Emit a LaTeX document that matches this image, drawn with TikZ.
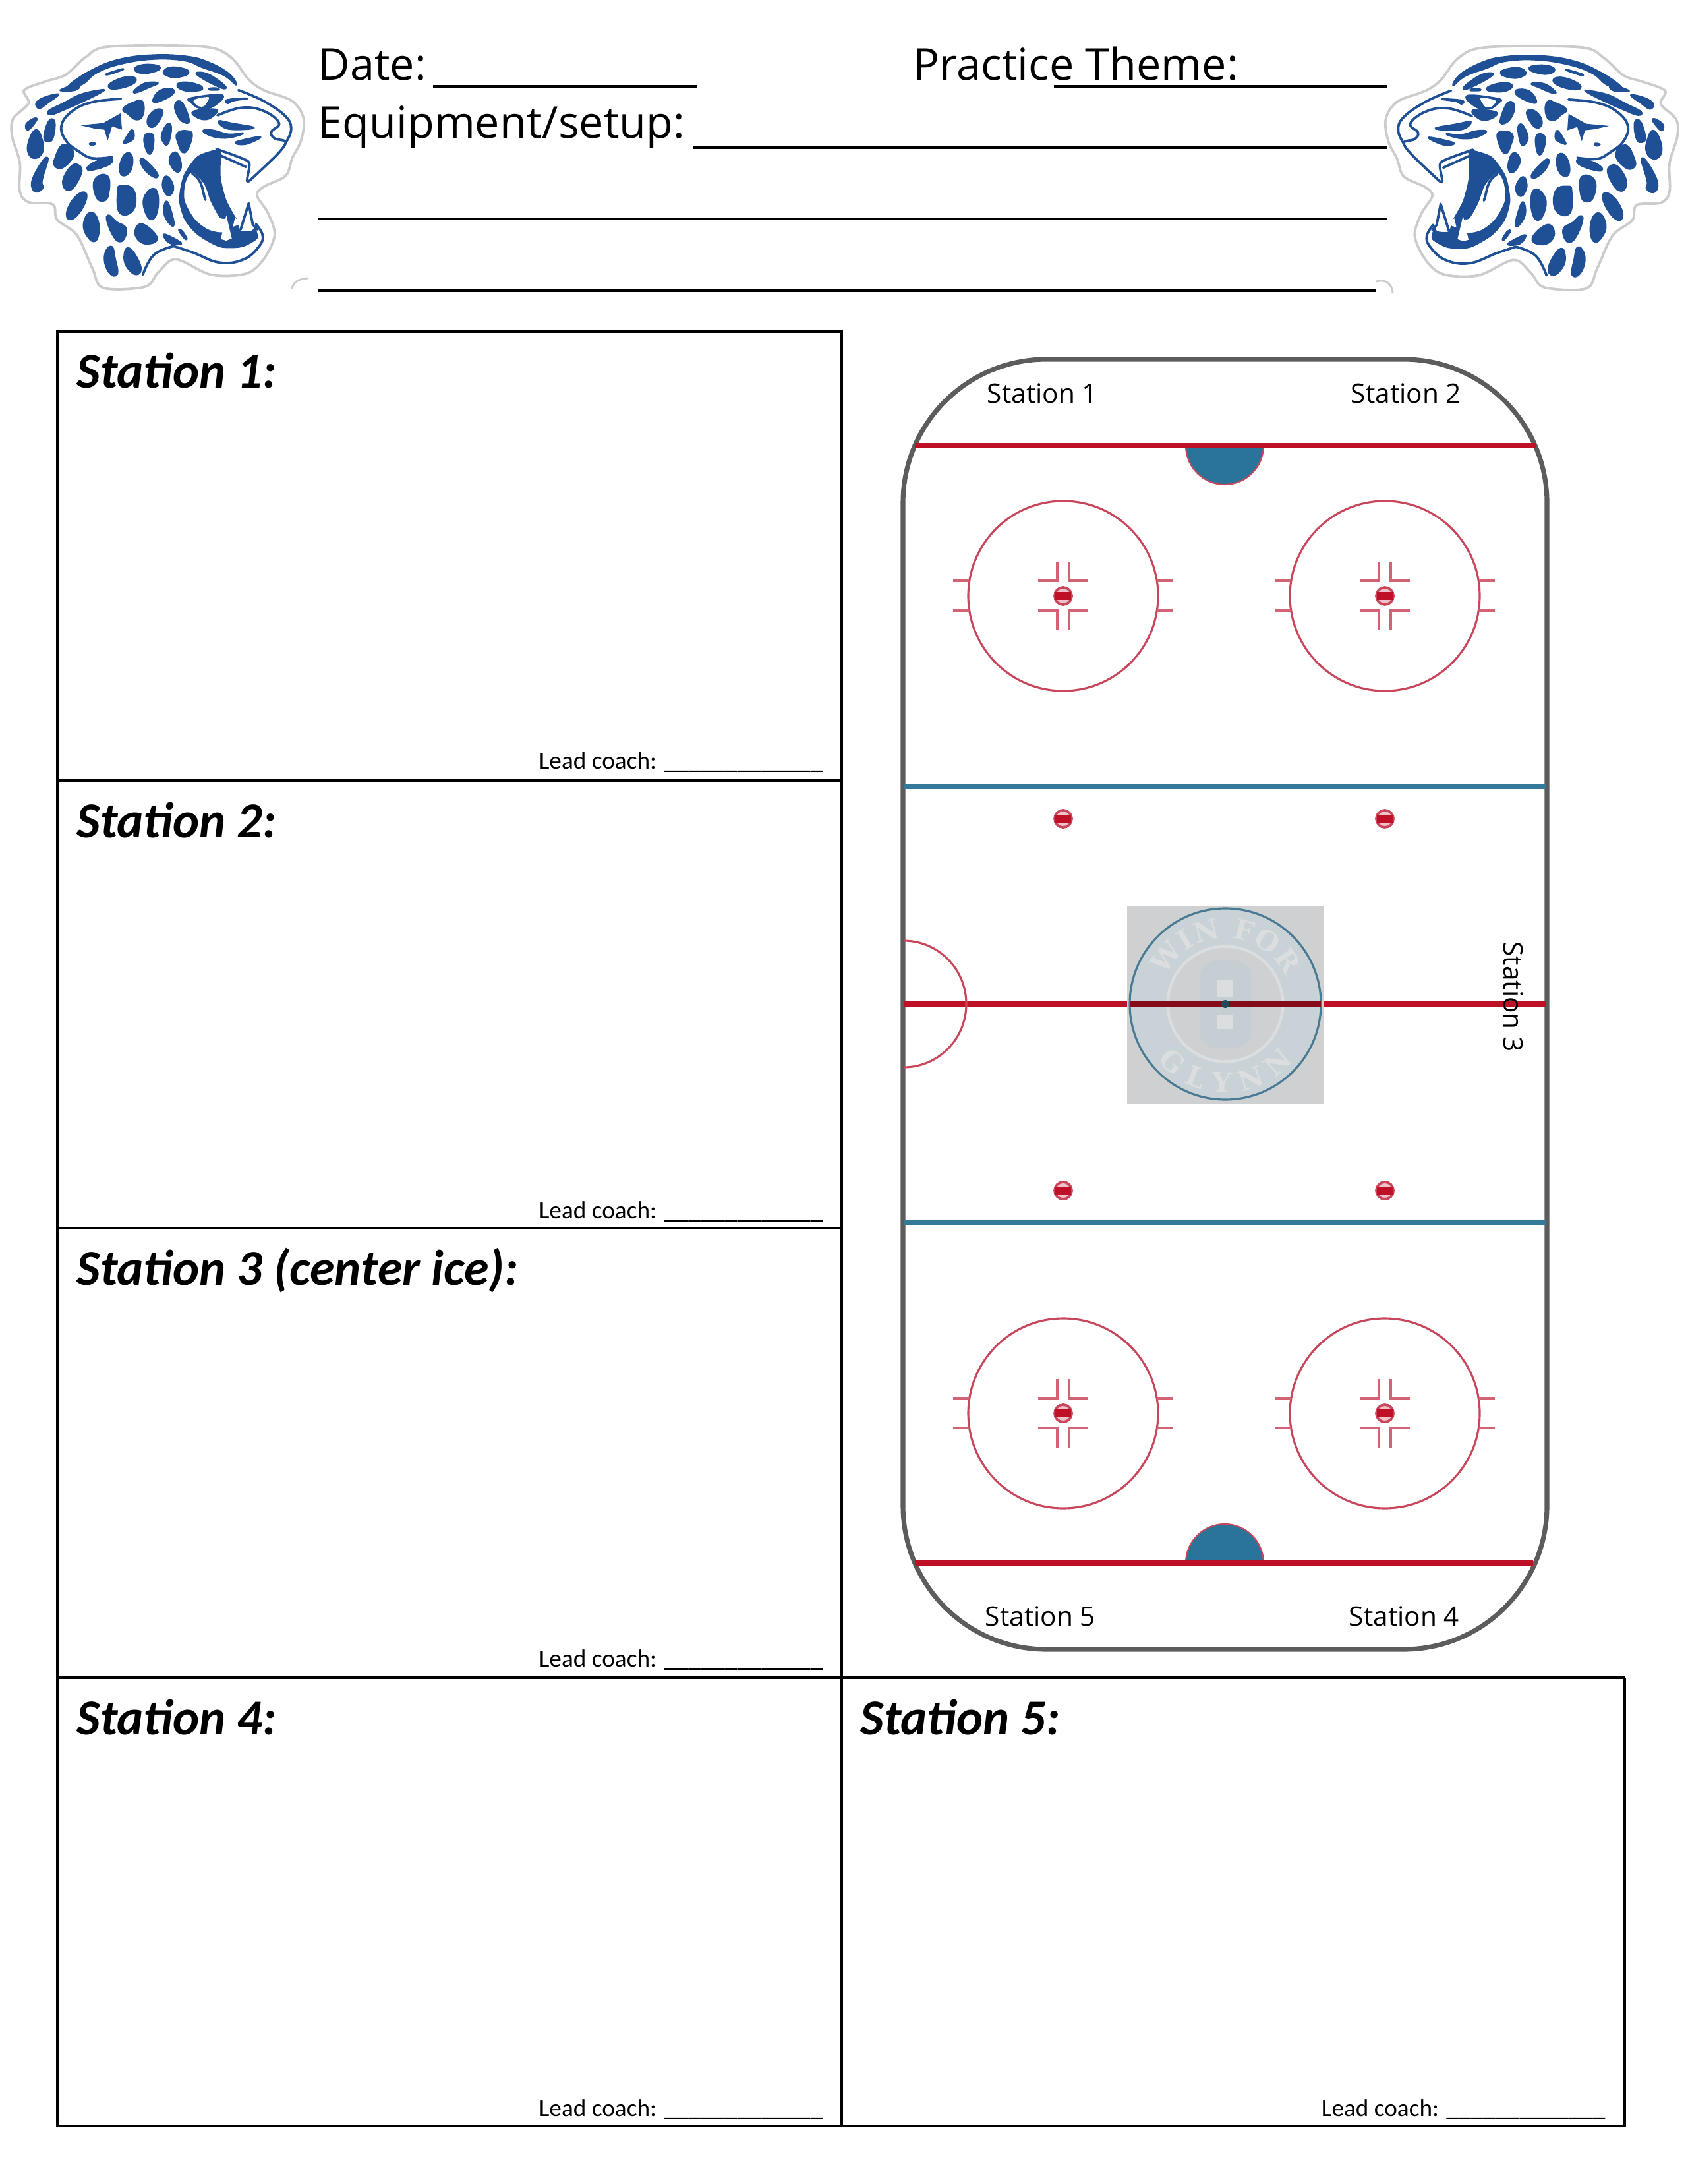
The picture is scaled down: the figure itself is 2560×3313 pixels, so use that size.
\documentclass[tikz,border=0pt]{standalone}
\usepackage{fontspec}
\setmainfont{Carlito}
\newfontfamily\headfont{Open Sans}
\newfontfamily\stampfont{DejaVu Serif}
\usepackage{tikz}
\usetikzlibrary{decorations.text}

\definecolor{jagblue}{HTML}{1F5096}
\definecolor{stickergray}{HTML}{CCCCCC}
\definecolor{boardgray}{HTML}{5C5C5C}
\definecolor{linered}{HTML}{BE1026}
\definecolor{circlered}{HTML}{C9475C}
\definecolor{lineblue}{HTML}{35799A}
\definecolor{creaseblue}{HTML}{2A7499}
\definecolor{stampgray}{HTML}{CFD0D1}
\definecolor{stampblue}{HTML}{C9D2D6}
\definecolor{stamplight}{HTML}{DBDDDE}

\tikzset{
    boxline/.style={black, line width=1.05pt},
    fillline/.style={black, line width=1pt},
    titletext/.style={anchor=base west, inner sep=0pt, font=\fontsize{18.2}{21}\selectfont\bfseries\itshape},
    coachtext/.style={anchor=base west, inner sep=0pt, font=\fontsize{8.9}{10}\selectfont},
    headtext/.style={anchor=base west, inner sep=0pt, font=\headfont\fontsize{15.9}{20}\selectfont},
    rinktext/.style={anchor=base west, inner sep=0pt, font=\headfont\fontsize{9.7}{11}\selectfont},
    jawline/.style={jagblue, line width=.9pt, line cap=round, line join=round},
    markline/.style={circlered!85!white, line width=.95pt},
}

\newcommand{\spot}[1]{\filldraw[jagblue, line width=1.25pt, line join=round] plot [smooth cycle, tension=.8] coordinates {#1};}
\newcommand{\stripe}[1]{\filldraw[jagblue, line width=.7pt, line join=round] plot [smooth cycle, tension=.7] coordinates {#1};}
\newcommand{\whitespot}[1]{\fill[white] plot [smooth cycle, tension=.5] coordinates {#1};}

% one head, in the pixels of its own crop
\newcommand{\leopardhead}{
    \draw[stickergray, fill=white, line width=.9pt] plot [smooth cycle, tension=.55] coordinates {
        (500,92)(920,92)(1050,140)(1130,240)(1200,290)(1330,340)(1382,420)(1370,520)(1330,600)
        (1300,680)(1200,730)(1170,770)(1220,850)(1250,950)(1200,1060)(1120,1125)(960,1130)
        (800,1060)(720,1120)(660,1185)(470,1190)(420,1100)(350,950)(260,880)(240,810)(130,800)
        (90,750)(90,620)(55,500)(60,420)(130,350)(110,290)(210,250)(300,220)(390,140)};
    % crown and stripes
    \stripe{(310,275)(400,210)(530,155)(690,132)(850,138)(950,165)(1040,215)(1075,265)(1020,222)(920,185)(840,155)(700,148)(550,170)(440,210)(375,262)}
    \stripe{(165,350)(200,325)(255,310)(262,315)(220,345)(180,372)}
    \stripe{(280,288)(330,270)(362,272)(340,290)(285,292)}
    \stripe{(222,385)(290,350)(370,310)(462,290)(462,298)(390,335)(300,375)(235,400)}
    \stripe{(490,215)(555,195)(550,200)(495,218)}
    \spot{(620,190)(670,178)(725,188)(680,207)(635,207)}
    \spot{(750,205)(790,190)(855,207)(810,227)(765,222)}
    \stripe{(895,212)(950,220)(1022,270)(1010,280)(925,238)}
    \spot{(500,268)(560,238)(612,238)(595,262)(525,280)}
    \stripe{(612,293)(660,260)(718,258)(680,276)(622,300)}
    \spot{(812,265)(860,260)(918,280)(880,290)(832,285)}
    \spot{(702,332)(732,295)(783,290)(775,312)(715,340)}
    \stripe{(955,283)(985,282)(995,288)(955,288)}
    % ear
    \draw[jawline] plot [smooth, tension=.7] coordinates {(550,330)(420,345)(330,385)(280,450)(300,520)(360,570)(420,600)(510,595)};
    \fill[jagblue] (365,450) -- (470,440) -- (550,395) -- (555,470) -- (510,455) -- (490,520) -- (475,470) -- (430,465) -- cycle;
    \stripe{(408,535)(425,530)(432,535)(420,540)}
    % spots
    \spot{(565,375)(610,350)(645,345)(647,400)(620,420)(585,395)}
    \spot{(675,430)(700,390)(735,385)(722,425)(692,455)}
    \spot{(800,360)(825,350)(855,420)(845,435)(815,410)}
    \stripe{(120,445)(155,420)(165,428)(128,470)}
    \spot{(205,500)(225,435)(245,438)(237,505)(217,520)}
    \spot{(130,550)(160,477)(185,510)(190,570)(152,595)}
    \spot{(255,600)(290,542)(330,580)(290,635)(255,635)}
    \spot{(405,640)(450,615)(505,605)(488,628)(415,650)}
    \spot{(550,635)(572,585)(597,593)(592,650)(560,675)}
    \stripe{(565,525)(600,472)(607,510)(572,530)}
    \spot{(660,510)(680,490)(695,510)(687,570)(672,565)}
    \spot{(740,495)(765,447)(775,470)(762,530)(748,525)}
    \spot{(810,490)(850,480)(870,500)(840,570)(815,530)}
    \spot{(155,690)(213,600)(187,700)(190,735)(157,745)}
    \spot{(290,710)(322,645)(355,635)(365,670)(320,740)}
    \spot{(435,700)(487,685)(490,760)(470,790)(440,770)}
    \spot{(645,605)(687,640)(715,680)(690,675)(655,640)}
    \spot{(775,610)(800,577)(820,630)(805,658)}
    \spot{(745,710)(760,687)(785,730)(770,765)(750,745)}
    \spot{(665,770)(705,745)(715,820)(690,875)(660,825)}
    \spot{(310,840)(350,775)(390,765)(368,830)(322,875)}
    \spot{(540,750)(555,730)(605,748)(605,830)(548,845)}
    \spot{(385,900)(415,850)(445,900)(435,970)(403,955)}
    \spot{(490,865)(530,895)(570,922)(550,975)(513,940)}
    \stripe{(750,810)(765,805)(790,890)(780,905)(750,860)}
    \spot{(620,930)(650,905)(710,960)(680,985)(635,972)}
    \stripe{(815,928)(830,934)(850,967)(838,962)}
    \spot{(480,1050)(505,1005)(520,1060)(530,1125)(498,1115)}
    \spot{(570,1040)(590,1015)(635,1090)(620,1125)(580,1090)}
    \stripe{(745,950)(770,955)(825,988)(772,985)}
    % eye and whiskers
    \stripe{(870,327)(1010,313)(972,362)(912,372)(870,345)}
    \whitespot{(882,335)(950,322)(930,362)(900,362)}
    \stripe{(880,388)(985,380)(950,420)(902,416)}
    \stripe{(1035,335)(1125,328)(1060,338)(1038,350)}
    \stripe{(995,432)(1060,443)(1155,462)(1040,466)}
    \stripe{(925,476)(970,474)(1040,492)(1105,487)(1040,506)(972,501)}
    \stripe{(1080,525)(1185,503)(1130,532)(1088,536)}
    \draw[jawline] plot [smooth, tension=.7] coordinates {(1085,290)(1200,340)(1300,410)(1325,470)(1300,530)};
    \draw[jawline] plot [smooth, tension=.7] coordinates {(990,405)(1100,370)(1200,385)(1270,440)(1235,480)(1250,510)(1300,530)(1245,600)};
    \draw[jawline] plot [smooth, tension=.5] coordinates {(985,558)(1100,600)(1135,625)(1125,705)(1160,680)(1245,600)};
    \draw[jawline] (1005,588) -- (1120,640);
    % mouth
    \fill[jagblue, line join=round] plot [smooth cycle, tension=.45] coordinates {(1000,558)(900,590)(835,680)(815,790)(840,880)(900,950)(1000,1005)(1100,1005)(1172,965)(1160,915)(1145,930)(1095,930)(1080,880)(1070,865)(1030,790)(1005,690)(1005,590)};
    \whitespot{(875,665)(930,720)(960,800)(1000,870)(1030,880)(1020,935)(950,925)(885,875)(840,790)(845,710)}
    \fill[white] (1005,968) -- (1030,860) -- (1055,965) -- (1030,975) -- cycle;
    \fill[white] (1060,912) -- (1070,870) -- (1090,890) -- (1095,900) -- cycle;
    \draw[jawline] (1095,925) -- (1132,805) -- (1150,900) -- (1170,925);
    \draw[jawline] (875,670) .. controls (925,700) and (920,750) .. (935,790);
    \draw[jawline] plot [smooth, tension=.7] coordinates {(790,1000)(880,1030)(1000,1075)(1110,1060)(1180,1000)(1195,950)(1165,900)};
    \draw[jawline] plot [smooth, tension=.7] coordinates {(650,1130)(700,1040)(790,1000)};
}

% one face-off circle with its marks
\newcommand{\faceoff}[2]{
    \begin{scope}[shift={(#1,#2)}]
        \draw[circlered, line width=.75pt] (0,0) circle [radius=144];
        \foreach \sx in {-1,1} {
            \draw[markline] (\sx*143,-23) -- (\sx*167,-23);
            \draw[markline] (\sx*143,22) -- (\sx*167,22);
            \draw[markline] (\sx*38,-23) -- (\sx*9,-23) -- (\sx*9,-52);
            \draw[markline] (\sx*38,22) -- (\sx*9,22) -- (\sx*9,52);
        }
    \end{scope}
    \icedot{#1}{#2}
}
\newcommand{\icedot}[2]{
    \draw[circlered, fill=white!75!linered, line width=.9pt] (#1,#2) circle [radius=13];
    \fill[linered] (#1-12,#2-6) rectangle (#1+12,#2+6);
}

\begin{document}
\begin{tikzpicture}[x=.239pt, y=-.239pt]
\useasboundingbox (0,0) rectangle (2560,3313);

% Heads
\begin{scope}[shift={(0,40)}, xscale=1/3, yscale=1/3]
    \leopardhead
\end{scope}
\begin{scope}[shift={(2563,41)}, xscale=-1/3, yscale=1/3]
    \leopardhead
\end{scope}
\draw[stickergray, line width=.7pt] (443,438) .. controls (445,428) and (452,423) .. (468,422);
\draw[stickergray, line width=.7pt] (2088,427) .. controls (2102,423) and (2112,430) .. (2113,445);

% Header
\node[headtext] (date) at (482,122) {Date:};
\node[headtext] (theme) at (1385,122) {Practice Theme:};
\node[headtext] (equipment) at (482,210) {Equipment/setup:};
\draw[fillline] (657,131) -- (1058,131);
\draw[fillline] (1599,131) -- (2104,131);
\draw[fillline] (1052,224) -- (2104,224);
\draw[fillline] (482,332) -- (2104,332);
\draw[fillline] (482,441) -- (2087,441);

% Station boxes
\draw[boxline] (87,503) rectangle (1277,3225);
\draw[boxline] (87,1184) -- (1277,1184);
\draw[boxline] (87,1863) -- (1277,1863);
\draw[boxline] (87,2545) -- (2465,2545);
\draw[boxline] (2465,2545) -- (2465,3225) -- (1277,3225);
\node[titletext] (title1) at (116,589) {Station 1:};
\node[titletext] (title2) at (116,1270) {Station 2:};
\node[titletext] (title3) at (116,1949) {Station 3 (center ice):};
\node[titletext] (title4) at (116,2631) {Station 4:};
\node[titletext] (title5) at (1305,2631) {Station 5:};
\node[coachtext] (coach1) at (817,1166) {Lead coach: \_\_\_\_\_\_\_\_\_\_\_\_\_};
\node[coachtext] (coach2) at (817,1848) {Lead coach: \_\_\_\_\_\_\_\_\_\_\_\_\_};
\node[coachtext] (coach3) at (817,2528) {Lead coach: \_\_\_\_\_\_\_\_\_\_\_\_\_};
\node[coachtext] (coach4) at (817,3210) {Lead coach: \_\_\_\_\_\_\_\_\_\_\_\_\_};
\node[coachtext] (coach5) at (2004,3210) {Lead coach: \_\_\_\_\_\_\_\_\_\_\_\_\_};

% Rink
\draw[boardgray, line width=1.7pt, rounded corners=52pt] (1370,545) rectangle (2347,2502);
\fill[creaseblue, draw=circlered, line width=.5pt] (1799,676) arc [start angle=180, end angle=0, x radius=59, y radius=59] -- cycle;
\fill[creaseblue, draw=circlered, line width=.5pt] (1799,2371) arc [start angle=180, end angle=0, x radius=59, y radius=-59] -- cycle;
\draw[linered, line width=1.9pt] (1388,676) -- (2330,676);
\draw[linered, line width=1.9pt] (1388,2371) -- (2326,2371);
\draw[lineblue, line width=1.9pt] (1371,1193) -- (2346,1193);
\draw[lineblue, line width=1.9pt] (1371,1854) -- (2346,1854);
\draw[linered, line width=1.9pt] (1371,1523) -- (2346,1523);
\draw[circlered, line width=.75pt] (1371,1427) arc [start angle=-90, end angle=90, x radius=95, y radius=96];
\foreach \cx in {1613,2101} {
    \faceoff{\cx}{904}
    \faceoff{\cx}{2144}
    \icedot{\cx}{1242}
    \icedot{\cx}{1806}
}

% Center ice
\fill[stampgray] (1710,1375) rectangle (2008,1674);
\draw[lineblue!75!gray, fill=stampblue, line width=.75pt] (1859,1523) circle [radius=145];
\draw[stamplight, line width=1.2pt] (1859,1523) circle [radius=87];
\fill[stampgray] (1859,1523) circle [radius=85];
\fill[stampblue!95!gray, rounded corners=6pt] (1820,1457) rectangle (1898,1590);
\fill[stamplight] (1847,1487) rectangle (1871,1513);
\fill[stamplight] (1847,1540) rectangle (1871,1561);
\path[decorate, decoration={text along path, text align={fit to path},
    text={|\stampfont\bfseries\fontsize{10}{10}\selectfont\color{stamplight}|WIN FOR}}]
    (1859,1523) ++(205:100) arc [start angle=205, end angle=335, radius=100];
\path[decorate, decoration={text along path, text align={fit to path},
    text={|\stampfont\bfseries\fontsize{10}{10}\selectfont\color{stamplight}|GLYNN}}]
    (1859,1523) ++(140:134) arc [start angle=140, end angle=40, radius=134];
\draw[linered!70!black, line width=1.9pt] (1714,1523) -- (2004,1523);
\fill[lineblue!60!black] (1859,1523) circle [radius=6];

% Rink labels
\node[rinktext] (rink1) at (1497,612) {Station 1};
\node[rinktext] (rink2) at (2049,612) {Station 2};
\node[rinktext] (rink5) at (1494,2466) {Station 5};
\node[rinktext] (rink4) at (2046,2466) {Station 4};
\node[rinktext, anchor=center, rotate=-90] (rink3) at (2296,1512) {Station 3};
\end{tikzpicture}
\end{document}
